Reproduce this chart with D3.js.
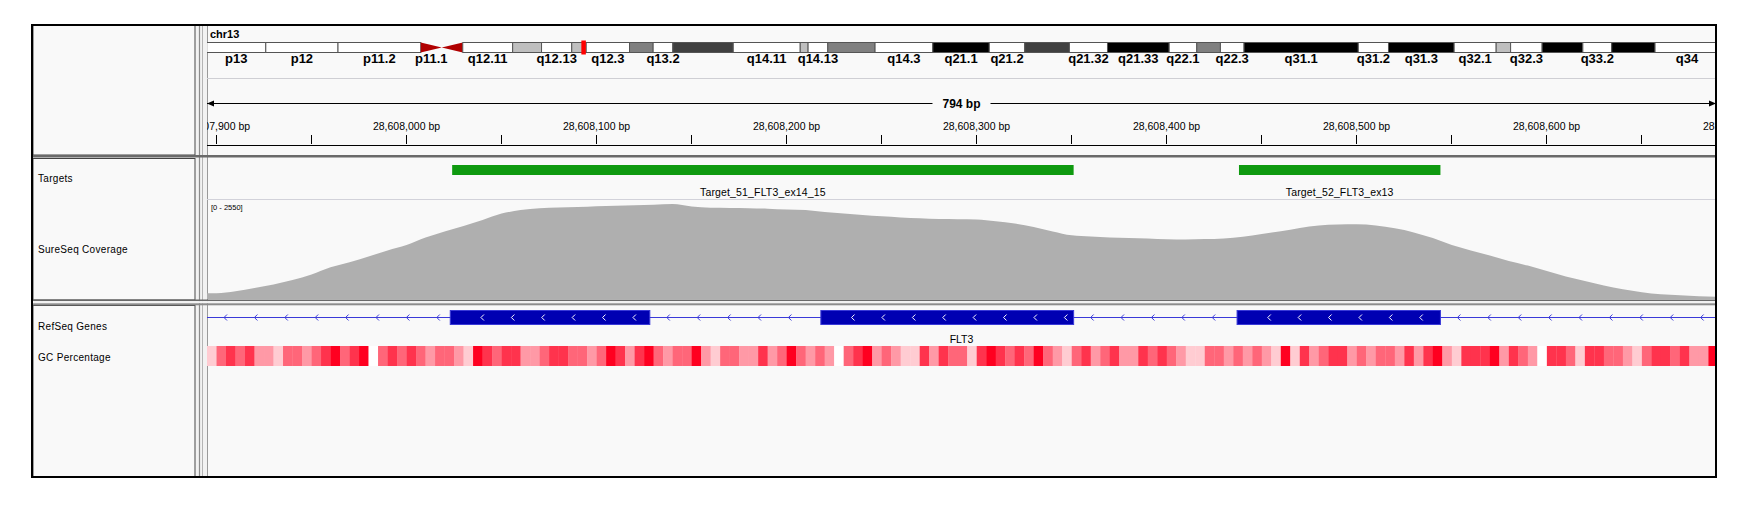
<!DOCTYPE html>
<html>
<head>
<meta charset="utf-8">
<script src="https://cdn.jsdelivr.net/npm/d3@7/dist/d3.min.js"></script>
<style>
body { margin: 0; background: #fff; }
text { font-family: "Liberation Sans", Arial, sans-serif; fill: #000; }
</style>
</head>
<body>
<div id="igv"></div>
<script>
// locus chr13:28,607,896-28,608,689 (794 bp)
var chrom = "chr13";
var chromLength = 115169878;
var viewStart = 28607895, viewEnd = 28608689;

// hg19 cytobands for chr13, ends in Mb
var bandNames = ["p13", "p12", "p11.2", "p11.1", "q11", "q12.11", "q12.12", "q12.13", "q12.2", "q12.3",
    "q13.1", "q13.2", "q13.3", "q14.11", "q14.12", "q14.13", "q14.2", "q14.3", "q21.1", "q21.2",
    "q21.31", "q21.32", "q21.33", "q22.1", "q22.2", "q22.3", "q31.1", "q31.2", "q31.3", "q32.1",
    "q32.2", "q32.3", "q33.1", "q33.2", "q33.3", "q34"];
var bandEnds = [4.5, 10, 16.3, 17.9, 19.5, 23.3, 25.5, 27.8, 28.9, 32.2,
    34, 35.5, 40.1, 45.2, 45.8, 47.3, 50.9, 55.3, 59.6, 62.3,
    65.7, 68.6, 73.3, 75.4, 77.2, 79, 87.7, 90, 95, 98.2,
    99.3, 101.7, 104.8, 107, 110.3, 115.169878];
var bandStains = ["gvar", "stalk", "gvar", "acen", "acen", "gneg", "gpos25", "gneg", "gpos25", "gneg",
    "gpos50", "gneg", "gpos75", "gneg", "gpos25", "gneg", "gpos50", "gneg", "gpos100", "gneg",
    "gpos75", "gneg", "gpos100", "gneg", "gpos50", "gneg", "gpos100", "gneg", "gpos100", "gneg",
    "gpos25", "gneg", "gpos100", "gneg", "gpos100", "gneg"];

var trackNames = ["Targets", "SureSeq Coverage", "RefSeq Genes", "GC Percentage"];

var targetNames = ["Target_51_FLT3_ex14_15", "Target_52_FLT3_ex13"];
var targetStarts = [28608024, 28608438];
var targetEnds = [28608351, 28608544];

var geneName = "FLT3";
var exonStarts = [28608023, 28608218, 28608437];
var exonEnds = [28608128, 28608351, 28608544];

// coverage, one value per 10 bp bin starting at covStart
var covMax = 2550;
var covStart = 28607895, covStep = 10;
var coverage = [150, 200, 285, 375, 490, 630, 815, 945, 1095, 1250,
    1390, 1585, 1740, 1880, 2035, 2200, 2290, 2335, 2355, 2370,
    2390, 2405, 2415, 2425, 2445, 2385, 2350, 2345, 2340, 2325,
    2305, 2290, 2240, 2200, 2165, 2130, 2100, 2080, 2060, 2055,
    2050, 2000, 1945, 1855, 1740, 1640, 1610, 1585, 1570, 1560,
    1540, 1535, 1545, 1560, 1605, 1675, 1745, 1830, 1895, 1920,
    1925, 1895, 1820, 1715, 1570, 1390, 1250, 1120, 980, 860,
    720, 580, 465, 350, 250, 175, 120, 95, 70, 60];

// GC percent per 5 bp window starting at gcStart
var gcStart = 28607895, gcStep = 5;
var gcPercent = [20, 60, 80, 60, 80, 40, 40, 20, 60, 60,
    40, 60, 80, 100, 60, 80, 100, 0, 60, 80,
    60, 80, 60, 40, 60, 60, 40, 20, 100, 80,
    60, 80, 80, 40, 40, 60, 80, 80, 60, 60,
    40, 60, 100, 80, 40, 80, 100, 60, 40, 60,
    60, 100, 40, 20, 60, 60, 40, 40, 80, 40,
    60, 100, 60, 40, 60, 40, 0, 60, 80, 100,
    40, 60, 40, 20, 20, 80, 40, 80, 60, 60,
    20, 80, 100, 80, 60, 80, 60, 100, 60, 40,
    20, 60, 80, 40, 60, 80, 40, 40, 80, 60,
    80, 60, 40, 20, 20, 60, 60, 40, 60, 40,
    60, 40, 20, 100, 20, 80, 40, 60, 80, 80,
    40, 60, 40, 60, 60, 40, 80, 40, 80, 100,
    40, 20, 80, 80, 80, 100, 40, 80, 60, 40,
    0, 80, 80, 60, 20, 80, 80, 60, 60, 40,
    20, 60, 80, 80, 60, 80, 40, 40, 100, 100];

var W = 1753, H = 513;
var frameL = 32, frameT = 25, frameR = 1716, frameB = 477;
var nameR = 195, dataL = 207, dataR = 1716;

var svg = d3.select("#igv").append("svg").attr("width", W).attr("height", H);

var x = d3.scaleLinear().domain([viewStart, viewEnd]).range([dataL, dataR]);
var cytoX = d3.scaleLinear().domain([0, chromLength]).range([206.7, 1719]);
var covY = d3.scaleLinear().domain([0, covMax]).range([299, 200]);
var gcColor = d3.scaleLinear().domain([0, 100]).range(["#ffffff", "#ff0020"]);

svg.append("defs").append("clipPath").attr("id", "dataClip")
    .append("rect").attr("x", dataL).attr("y", frameT).attr("width", dataR - dataL).attr("height", frameB - frameT);

// panels
svg.append("rect").attr("x", frameL).attr("y", frameT).attr("width", frameR - frameL).attr("height", frameB - frameT)
    .attr("fill", "#f9f9f9");
svg.append("rect").attr("x", nameR + 1).attr("y", frameT).attr("width", dataL - nameR - 1).attr("height", frameB - frameT)
    .attr("fill", "#f2f2f2");
var sections = [[frameT, 155], [158, 300], [305, 477]];
sections.forEach(function(s) {
    svg.append("rect").attr("x", frameL + 1).attr("y", s[0] + 0.5).attr("width", nameR - frameL - 1).attr("height", s[1] - s[0] - 0.5)
	.attr("fill", "#f9f9f9").attr("stroke", "#444").attr("stroke-width", 1);
});
svg.append("line").attr("x1", 199.5).attr("x2", 199.5).attr("y1", frameT).attr("y2", frameB).attr("stroke", "#8c8c8c").attr("stroke-width", 1.2);
svg.append("line").attr("x1", 202.5).attr("x2", 202.5).attr("y1", frameT).attr("y2", frameB).attr("stroke", "#b4b4b4").attr("stroke-width", 1);
svg.append("line").attr("x1", dataL + 0.5).attr("x2", dataL + 0.5).attr("y1", frameT).attr("y2", frameB).attr("stroke", "#9a9a9a").attr("stroke-width", 1);
svg.append("rect").attr("x", frameL).attr("y", 155).attr("width", frameR - frameL).attr("height", 2.5).attr("fill", "#6a6a6a");
svg.append("rect").attr("x", frameL).attr("y", 299.5).attr("width", frameR - frameL).attr("height", 1.6).attr("fill", "#6a6a6a");
svg.append("rect").attr("x", frameL).attr("y", 301.1).attr("width", frameR - frameL).attr("height", 2.2).attr("fill", "#f2f2f2");
svg.append("rect").attr("x", frameL).attr("y", 303.3).attr("width", frameR - frameL).attr("height", 2).attr("fill", "#8c8c8c");

// ---- header: ideogram ----
var header = svg.append("g").attr("clip-path", "url(#dataClip)");
header.append("text").attr("x", 210).attr("y", 37.5).attr("font-size", "11px").attr("font-weight", "bold").text(chrom);

var bandTop = 42.5, bandH = 10;
var bandStarts = bandEnds.map(function(e, i) { return i == 0 ? 0 : bandEnds[i - 1]; });
var acenCount = 0;
for (var i = 0; i < bandNames.length; i++) {
    var s = cytoX(bandStarts[i] * 1e6), e = cytoX(bandEnds[i] * 1e6);
    var stain = bandStains[i];
    if (stain == "acen") {
	var pts = acenCount == 0 ?
	    [[s, bandTop], [s, bandTop + bandH], [e, bandTop + bandH / 2]] :
	    [[e, bandTop], [e, bandTop + bandH], [s, bandTop + bandH / 2]];
	header.append("path").attr("d", "M" + pts.join("L") + "Z").attr("fill", "#b00000");
	acenCount++;
	continue;
    }
    var shade = 255;
    if (stain.indexOf("gpos") == 0) shade = Math.round(255 * (1 - (+stain.slice(4)) / 100));
    header.append("rect").attr("x", s).attr("y", bandTop).attr("width", e - s).attr("height", bandH)
	.attr("fill", d3.rgb(shade, shade, shade)).attr("stroke", "#555").attr("stroke-width", 1);
}

// band labels, skipped when they would crowd the previous one
var lastLabelEnd = -1000;
for (var i = 0; i < bandNames.length; i++) {
    if (bandStains[i] == "acen" && i == 4) continue;
    var c = (cytoX(bandStarts[i] * 1e6) + cytoX(bandEnds[i] * 1e6)) / 2;
    var t = header.append("text").attr("x", c).attr("y", 63).attr("text-anchor", "middle")
	.attr("font-family", "'Liberation Serif', 'Times New Roman', serif")
	.attr("font-size", "13px").attr("font-weight", "bold").text(bandNames[i]);
    var w = t.node().getComputedTextLength();
    if (c - w / 2 <= lastLabelEnd + 7.2) { t.remove(); continue; }
    lastLabelEnd = c + w / 2;
}

// current view marker
var viewMid = (viewStart + viewEnd) / 2;
header.append("rect").attr("x", cytoX(viewMid) - 1).attr("y", 40.5).attr("width", 4.5).attr("height", 14).attr("fill", "#ff0000");

header.append("line").attr("x1", dataL).attr("x2", dataR).attr("y1", 78.5).attr("y2", 78.5).attr("stroke", "#cfcfd4");

// ---- ruler ----
var spanLabel = header.append("text").attr("x", (dataL + dataR) / 2).attr("y", 107.5).attr("text-anchor", "middle")
    .attr("font-size", "12px").attr("font-weight", "bold").text((viewEnd - viewStart) + " bp");
var sw = spanLabel.node().getComputedTextLength();
var mid = (dataL + dataR) / 2;
header.append("line").attr("x1", dataL).attr("x2", mid - sw / 2 - 10).attr("y1", 103.5).attr("y2", 103.5).attr("stroke", "#000");
header.append("line").attr("x1", mid + sw / 2 + 10).attr("x2", dataR).attr("y1", 103.5).attr("y2", 103.5).attr("stroke", "#000");
header.append("path").attr("d", "M" + dataL + ",103.5L" + (dataL + 7) + ",100.5L" + (dataL + 7) + ",106.5Z").attr("fill", "#000");
header.append("path").attr("d", "M" + dataR + ",103.5L" + (dataR - 7) + ",100.5L" + (dataR - 7) + ",106.5Z").attr("fill", "#000");

var tickVals = d3.range(28607900, 28608701, 50);
var fmt = d3.format(",");
tickVals.forEach(function(v) {
    var tx = Math.floor(x(v)) + 0.5;
    header.append("line").attr("x1", tx).attr("x2", tx).attr("y1", 135).attr("y2", 144).attr("stroke", "#000");
    if (v % 100 == 0) {
	header.append("text").attr("x", tx).attr("y", 130).attr("text-anchor", "middle")
	    .attr("font-size", "10.5px").text(fmt(v) + " bp");
    }
});
header.append("line").attr("x1", dataL).attr("x2", dataR).attr("y1", 145.5).attr("y2", 145.5).attr("stroke", "#000");

// ---- track names ----
var nameY = [182, 253, 330, 361];
trackNames.forEach(function(n, i) {
    svg.append("text").attr("x", 38).attr("y", nameY[i]).attr("font-size", "10px").attr("letter-spacing", "0.3px").text(n);
});

var tracks = svg.append("g").attr("clip-path", "url(#dataClip)");

// targets
for (var i = 0; i < targetNames.length; i++) {
    tracks.append("rect").attr("x", x(targetStarts[i])).attr("y", 165).attr("width", x(targetEnds[i]) - x(targetStarts[i])).attr("height", 10)
	.attr("fill", "#0f9a10");
    tracks.append("text").attr("x", (x(targetStarts[i]) + x(targetEnds[i])) / 2).attr("y", 196).attr("text-anchor", "middle")
	.attr("font-size", "10.5px").attr("letter-spacing", "0.15px").text(targetNames[i]);
}
tracks.append("line").attr("x1", dataL).attr("x2", dataR).attr("y1", 199.5).attr("y2", 199.5).attr("stroke", "#d2d2da");

// coverage
var covPts = [[viewStart, coverage[0]]];
coverage.forEach(function(v, k) { covPts.push([covStart + k * covStep + covStep / 2, v]); });
covPts.push([viewEnd, coverage[coverage.length - 1]]);
var area = d3.area().x(function(d) { return x(d[0]); }).y0(covY(0)).y1(function(d) { return covY(d[1]); }).curve(d3.curveMonotoneX);
tracks.append("path").attr("d", area(covPts)).attr("fill", "#afafaf");
tracks.append("text").attr("x", 211).attr("y", 209.5).attr("font-size", "7.5px").text("[0 - " + covMax + "]");

// gene
var geneY = 317.5;
tracks.append("line").attr("x1", dataL).attr("x2", dataR).attr("y1", geneY).attr("y2", geneY).attr("stroke", "#3a3ad8");
var segs = [];
var prev = viewStart;
for (var i = 0; i < exonStarts.length; i++) {
    segs.push({ s: x(prev), e: x(exonStarts[i]), exon: false });
    segs.push({ s: x(exonStarts[i]), e: x(exonEnds[i]), exon: true });
    prev = exonEnds[i];
}
segs.push({ s: x(prev), e: x(viewEnd), exon: false });
segs.forEach(function(sg) {
    if (sg.exon) {
	tracks.append("rect").attr("x", sg.s).attr("y", 310.5).attr("width", sg.e - sg.s).attr("height", 14)
	    .attr("fill", "#0000b2").attr("stroke", "#3a3ad8").attr("stroke-width", 1);
    }
    var off = sg.exon ? 31.7 : 18;
    for (var ax = sg.s + off; ax < sg.e - 8; ax += 30.4) {
	tracks.append("path").attr("d", "M" + (ax + 2) + "," + (geneY - 3) + "L" + (ax - 1) + "," + geneY + "L" + (ax + 2) + "," + (geneY + 3))
	    .attr("fill", "none").attr("stroke", sg.exon ? "#fff" : "#3a3ad8").attr("stroke-width", 1);
    }
});
tracks.append("text").attr("x", (dataL + dataR) / 2).attr("y", 342.5).attr("text-anchor", "middle")
    .attr("font-size", "10.5px").text(geneName);

// gc percentage
gcPercent.forEach(function(v, k) {
    var s = gcStart + k * gcStep;
    tracks.append("rect").attr("x", x(s)).attr("y", 346).attr("width", x(s + gcStep) - x(s) + 0.3).attr("height", 20)
	.attr("fill", gcColor(v));
});

// outer frame
svg.append("rect").attr("x", frameL).attr("y", frameT).attr("width", frameR - frameL).attr("height", frameB - frameT)
    .attr("fill", "none").attr("stroke", "#000").attr("stroke-width", 2);
</script>
</body>
</html>
